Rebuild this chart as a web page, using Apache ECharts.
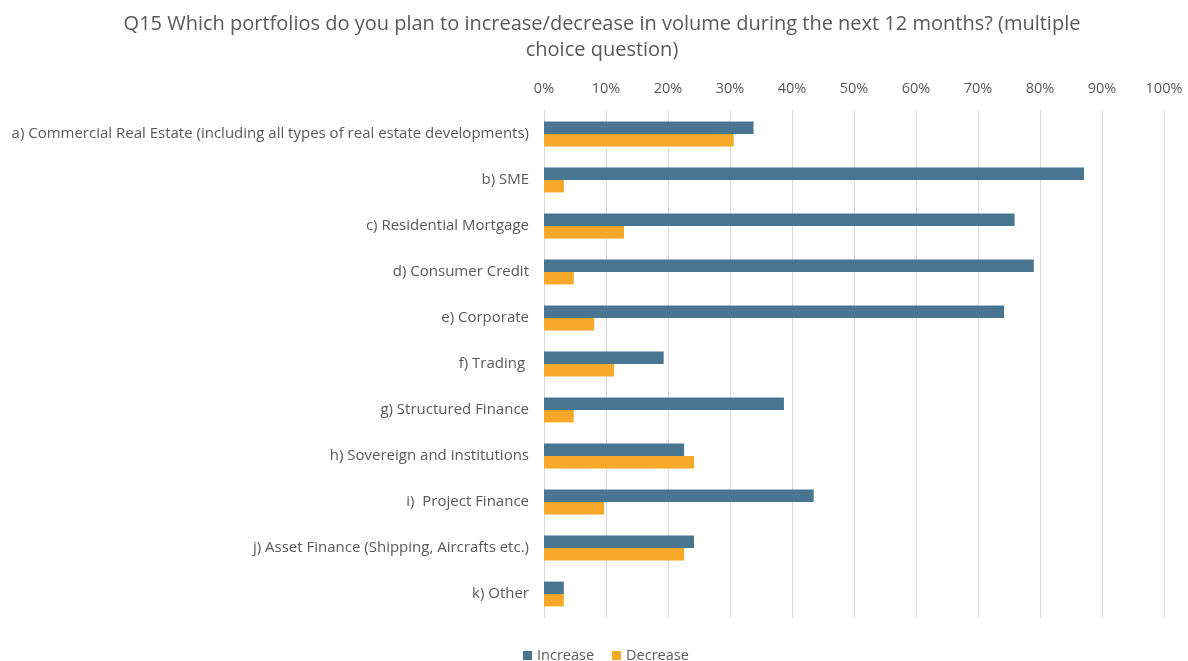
<!DOCTYPE html>
<html>
<head>
<meta charset="utf-8">
<script src="https://cdn.jsdelivr.net/npm/echarts@6/dist/echarts.min.js"></script>
<style>html,body{margin:0;padding:0;background:#fff}#c{width:1188px;height:661px}</style>
</head>
<body>
<div id="c"></div>
<script>
const categories = [
  "a) Commercial Real Estate (including all types of real estate developments)",
  "b) SME",
  "c) Residential Mortgage",
  "d) Consumer Credit",
  "e) Corporate",
  "f) Trading ",
  "g) Structured Finance",
  "h) Sovereign and institutions",
  "i)  Project Finance",
  "j) Asset Finance (Shipping, Aircrafts etc.)",
  "k) Other"
];
const increaseValues = [33.8, 87.1, 75.9, 79.0, 74.2, 19.3, 38.7, 22.6, 43.5, 24.2, 3.2];
const decreaseValues = [30.6, 3.2, 12.9, 4.8, 8.1, 11.3, 4.8, 24.2, 9.7, 22.6, 3.2];
const seriesNames = ["Increase", "Decrease"];
const titleText = "Q15 Which portfolios do you plan to increase/decrease in volume during the next 12 months? (multiple\nchoice question)";

const chart = echarts.init(document.getElementById('c'), null, {renderer: 'canvas'});
const font = '"Open Sans", "Noto Sans", sans-serif';
chart.setOption({
  animation: false,
  backgroundColor: '#ffffff',
  title: {
    text: titleText,
    left: 597,
    top: 6,
    textAlign: 'center',
    textStyle: {fontFamily: font, fontSize: 20, fontWeight: 'normal', color: '#595959', lineHeight: 26, align: 'center'}
  },
  legend: {
    data: seriesNames,
    top: 643,
    left: 518,
    itemWidth: 9,
    itemHeight: 9,
    itemGap: 18,
    icon: 'rect',
    textStyle: {fontFamily: font, fontSize: 14.5, color: '#595959'}
  },
  grid: {left: 544, right: 24, top: 111, bottom: 44, containLabel: false},
  xAxis: {
    type: 'value',
    position: 'top',
    min: 0, max: 100, interval: 10,
    axisLine: {show: false},
    axisTick: {show: false},
    axisLabel: {formatter: '{value}%', fontFamily: font, fontSize: 14.5, color: '#595959', margin: 15},
    splitLine: {lineStyle: {color: '#D9D9D9', width: 1}}
  },
  yAxis: {
    type: 'category',
    data: categories,
    inverse: true,
    axisLine: {show: false},
    axisTick: {show: false},
    axisLabel: {fontFamily: font, fontSize: 15, color: '#595959', margin: 15}
  },
  series: [
    {name: seriesNames[0], type: 'bar', data: increaseValues, barGap: '0%', barCategoryGap: '46%',
     itemStyle: {color: '#48758F'}},
    {name: seriesNames[1], type: 'bar', data: decreaseValues, barGap: '0%', barCategoryGap: '46%',
     itemStyle: {color: '#F7A828'}}
  ]
});
</script>
</body>
</html>
